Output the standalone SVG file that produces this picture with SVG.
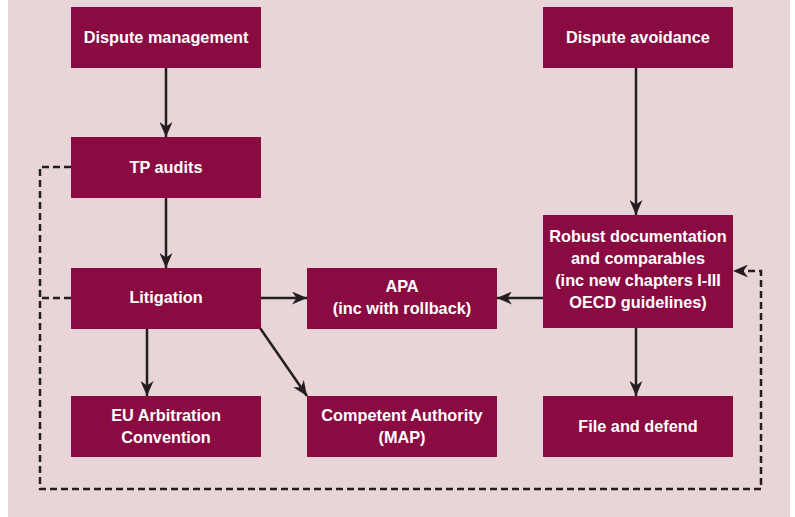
<svg xmlns="http://www.w3.org/2000/svg" width="795" height="517" viewBox="0 0 795 517">
<defs>
<style>
.box{fill:#8a0b41}
.t{fill:#ffffff;font-family:"Liberation Sans",Arial,sans-serif;font-weight:bold;font-size:16.3px;text-anchor:middle}
.c{stroke:#231f20;stroke-width:2.5;fill:none}
.d{stroke:#231f20;stroke-width:2.5;fill:none;stroke-dasharray:7 4}
</style>
<marker id="ah" viewBox="0 0 15 13" refX="15" refY="6.5" markerWidth="15" markerHeight="13" markerUnits="userSpaceOnUse" orient="auto">
<path d="M0,0 L15,6.5 L0,13 L4.5,6.5 z" fill="#231f20"/>
</marker>
</defs>
<rect x="0" y="0" width="795" height="517" fill="#ffffff"/>
<rect x="8" y="0" width="782" height="517" fill="#e9d4d8"/>

<g id="connectors">
<line class="c" x1="166" y1="68" x2="166" y2="137" marker-end="url(#ah)"/>
<line class="c" x1="166" y1="198" x2="166" y2="268" marker-end="url(#ah)"/>
<line class="c" x1="261" y1="298" x2="307" y2="298" marker-end="url(#ah)"/>
<line class="c" x1="543" y1="298" x2="497" y2="298" marker-end="url(#ah)"/>
<line class="c" x1="147" y1="329" x2="147" y2="396" marker-end="url(#ah)"/>
<line class="c" x1="260" y1="328" x2="307" y2="396" marker-end="url(#ah)"/>
<line class="c" x1="636" y1="68" x2="636" y2="215" marker-end="url(#ah)"/>
<line class="c" x1="636" y1="328" x2="636" y2="396" marker-end="url(#ah)"/>
<polyline class="d" points="71,167 40,167 40,489 761,489 761,271 733,271" marker-end="url(#ah)"/>
<polyline class="d" points="71,298 40,298"/>
</g>

<g id="dispute-management">
<rect class="box" x="71" y="7" width="190" height="61"/>
<text class="t" x="166" y="43">Dispute management</text>
</g>
<g id="dispute-avoidance">
<rect class="box" x="543" y="7" width="190" height="61"/>
<text class="t" x="638" y="43">Dispute avoidance</text>
</g>
<g id="tp-audits">
<rect class="box" x="71" y="137" width="190" height="61"/>
<text class="t" x="166" y="173">TP audits</text>
</g>
<g id="litigation">
<rect class="box" x="71" y="268" width="190" height="61"/>
<text class="t" x="166" y="303">Litigation</text>
</g>
<g id="apa">
<rect class="box" x="307" y="268" width="190" height="61"/>
<text class="t" x="402" y="292">APA</text>
<text class="t" x="402" y="314">(inc with rollback)</text>
</g>
<g id="robust-documentation">
<rect class="box" x="543" y="215" width="190" height="113"/>
<text class="t" x="638" y="242">Robust documentation</text>
<text class="t" x="638" y="264">and comparables</text>
<text class="t" x="638" y="286">(inc new chapters I-III</text>
<text class="t" x="638" y="308">OECD guidelines)</text>
</g>
<g id="eu-arbitration">
<rect class="box" x="71" y="396" width="190" height="61"/>
<text class="t" x="166" y="421">EU Arbitration</text>
<text class="t" x="166" y="443">Convention</text>
</g>
<g id="competent-authority">
<rect class="box" x="307" y="396" width="190" height="61"/>
<text class="t" x="402" y="421">Competent Authority</text>
<text class="t" x="402" y="443">(MAP)</text>
</g>
<g id="file-and-defend">
<rect class="box" x="543" y="396" width="190" height="61"/>
<text class="t" x="638" y="432">File and defend</text>
</g>
</svg>
